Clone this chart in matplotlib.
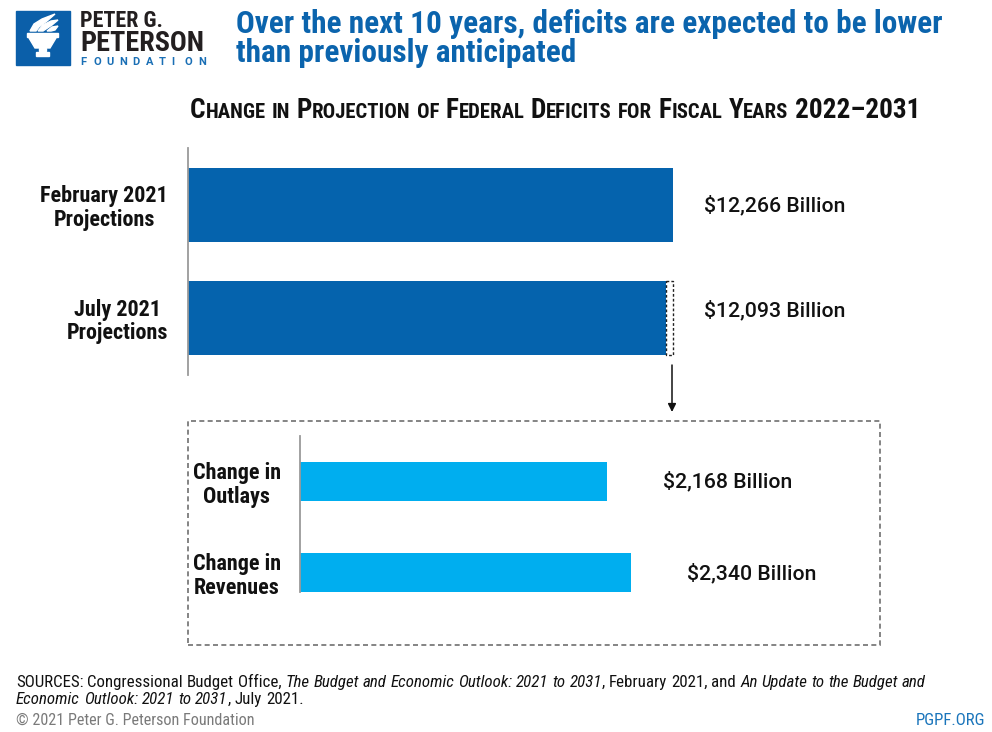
import matplotlib
matplotlib.use("Agg")
import matplotlib.pyplot as plt
from matplotlib import font_manager
from matplotlib.patches import Rectangle, Polygon

# data
top_labels = ["February 2021\nProjections", "July 2021\nProjections"]
top_values = [12266, 12093]
top_text = ["$12,266 Billion", "$12,093 Billion"]

bottom_labels = ["Change in\nOutlays", "Change in\nRevenues"]
bottom_values = [2168, 2340]
bottom_text = ["$2,168 Billion", "$2,340 Billion"]

title_lines = ["Over the next 10 years, deficits are expected to be lower",
               "than previously anticipated"]
subtitle = "Change in Projection of Federal Deficits for Fiscal Years 2022\u20132031"

DARK = "#0563ad"
LIGHT = "#00aeef"
BLUE_TXT = "#0b64ad"

# look for a narrow / condensed face, else fall back to Roboto
ttf = font_manager.fontManager.ttflist
names = {f.name for f in ttf}
COND = dict(family="Roboto")
for nm in ["Roboto Condensed", "Liberation Sans Narrow", "Open Sans Condensed"]:
    if nm in names:
        COND = dict(family=nm)
        break
else:
    for nm in ["Roboto", "Noto Sans", "Open Sans", "DejaVu Sans"]:
        if any(f.name == nm and "condensed" in str(f.stretch) for f in ttf):
            COND = dict(family=nm, fontstretch="condensed")
            break
PLAIN = dict(family="Roboto")

W, H = 992, 732
fig = plt.figure(figsize=(W / 100, H / 100), dpi=100)
renderer = fig.canvas.get_renderer()


def fx(px):
    return px / W


def fy(py):
    return 1 - py / H


def px_axes(l, t, r, b):
    return fig.add_axes([fx(l), fy(b), (r - l) / W, (b - t) / H])


def width_of(s, props):
    t = fig.text(0, 0, s, **props)
    w = t.get_window_extent(renderer).width
    t.remove()
    return w


def fit(s, target, props, ref=20):
    # font size that makes s about target pixels wide
    return ref * target / width_of(s, dict(props, fontsize=ref))


def space_w(props):
    return width_of("x x", props) - width_of("xx", props)


def run_text(x, y, parts, made=None):
    # pieces one after another on one baseline (pixel coords from top-left)
    for s, props in parts:
        sw = space_w(props)
        for i, tok in enumerate(s.split(" ")):
            if i > 0:
                x += sw
            if tok:
                t = fig.text(fx(x), fy(y), tok, va="baseline", ha="left", **props)
                if made is not None:
                    made.append(t)
                x = t.get_window_extent(renderer).x1
    return x


def small_caps(x, y, text, size, ratio, base, made=None):
    big = dict(base, fontsize=size)
    small = dict(base, fontsize=size * ratio)
    sp = space_w(big)
    for wi, word in enumerate(text.split(" ")):
        if wi > 0:
            x += sp
        groups = []
        for ch in word:
            props = small if ch.islower() else big
            if groups and groups[-1][1] is props:
                groups[-1][0] += ch.upper()
            else:
                groups.append([ch.upper(), props])
        for s, props in groups:
            x = run_text(x, y, [(s, props)], made)
    return x


# ---- logo ----
fig.patches.append(Rectangle((fx(16), fy(65)), 54 / W, 54 / H, color="#0b5fa9",
                             transform=fig.transFigure, figure=fig))
torch = [
    [(27, 33), (58, 33), (58, 37), (27, 37)],
    [(29, 38), (56, 38), (50, 48), (35, 48)],
    [(39, 48), (46, 48), (46, 51), (39, 51)],
    [(36, 52), (49, 52), (49, 56), (36, 56)],
    [(30, 31), (34, 24), (42, 19), (55, 14), (47, 21), (39, 27), (36, 31)],
    [(38, 31), (43, 25), (51, 21), (58, 20), (52, 25), (46, 29), (43, 31)],
    [(47, 31), (52, 27), (58, 26), (55, 30), (51, 31)],
]
for pts in torch:
    fig.patches.append(Polygon([(fx(a), fy(b)) for a, b in pts], closed=True,
                               color="white", transform=fig.transFigure, figure=fig))
logo_b = dict(COND, fontweight="bold", color="#231f20")
fig.text(fx(80), fy(27), "PETER G.", fontsize=fit("PETER G.", 83, logo_b), va="baseline", **logo_b)
fig.text(fx(80), fy(51), "PETERSON", fontsize=fit("PETERSON", 128, logo_b) * 0.97,
         va="baseline", **logo_b)
for i, ch in enumerate("FOUNDATION"):
    fig.text(fx(80 + i * 13.1), fy(65), ch, fontsize=8, fontweight="bold",
             color="#1a6fb5", va="baseline", **PLAIN)

# ---- title ----
title_p = dict(COND, fontweight="bold", color=BLUE_TXT)
tsize = fit(title_lines[0], 702, title_p)
fig.text(fx(236), fy(33), title_lines[0], fontsize=tsize, va="baseline", **title_p)
fig.text(fx(236), fy(62), title_lines[1], fontsize=tsize, va="baseline", **title_p)

# ---- small caps subtitle, sized to span 190..917 px ----
sub_p = dict(COND, fontweight="bold", color="#111111")
tmp = []
end = small_caps(190, 117, subtitle, 14, 0.76, sub_p, tmp)
for t in tmp:
    t.remove()
small_caps(190, 118, subtitle, 14 * 727 / (end - 190), 0.76, sub_p)

# ---- top chart ----
ax1 = px_axes(188, 148, 900, 375)
px_per = 485 / 12266
ax1.barh(range(len(top_values)), top_values, height=0.655, color=DARK)
ax1.set_xlim(0, 712 / px_per)
ax1.set_ylim(1.504, -0.504)
ax1.add_patch(Rectangle((top_values[1], 1 - 0.327), top_values[0] - top_values[1], 0.654,
                        fill=False, ec="#222222", lw=1, ls=(0, (2, 1.5))))
val_p = dict(PLAIN, fontweight="medium", color="#111111")
vsize = fit(top_text[0], 141, val_p)
lab_x = max(top_values) + 31 / px_per
for i, (s, dy) in enumerate(zip(top_text, [0, 6])):
    ax1.annotate(s, xy=(lab_x, i), xytext=(0, dy), textcoords="offset points",
                 va="center", ha="left", fontsize=vsize, **val_p)

# ---- bottom chart ----
ax2 = px_axes(300, 436, 870, 592)
px_per2 = 307 / 2168
ax2.barh(range(len(bottom_values)), bottom_values, height=0.43, color=LIGHT)
ax2.set_xlim(0, 570 / px_per2)
ax2.set_ylim(1.208, -0.497)
for i, s in enumerate(bottom_text):
    ax2.annotate(s, xy=(bottom_values[i], i), xytext=(56 * 0.72, 0),
                 textcoords="offset points", va="center", ha="left",
                 fontsize=vsize, **val_p)

cat_p = dict(COND, fontweight="bold", color="#111111")
csize = fit("February 2021", 128, cat_p)
for ax, labels, pad in [(ax1, top_labels, 14.4), (ax2, bottom_labels, 13.7)]:
    ax.set_yticks(range(len(labels)))
    ax.set_yticklabels(labels, fontsize=csize, multialignment="center",
                       linespacing=1.1, **cat_p)
    ax.tick_params(axis="y", length=0, pad=pad)
    ax.set_xticks([])
    for side in ["top", "right", "bottom"]:
        ax.spines[side].set_visible(False)
    ax.spines["left"].set_color("#9a9a9a")
    ax.spines["left"].set_linewidth(1.3)
    ax.patch.set_alpha(0)

# arrow and dashed box
fig.patches.append(Rectangle((fx(188), fy(645)), (880 - 188) / W, (645 - 421) / H,
                             fill=False, ec="#6f6f6f", lw=1.2, ls=(0, (3, 2)),
                             transform=fig.transFigure, figure=fig))
ax1.annotate("", xy=(fx(672), fy(412)), xytext=(fx(672), fy(365)),
             xycoords="figure fraction", textcoords="figure fraction",
             arrowprops=dict(arrowstyle="-|>", color="#111111", lw=1.1,
                             mutation_scale=12, shrinkA=0, shrinkB=0))

# ---- footer ----
foot_p = dict(COND, color="#111111")
line1 = [("SOURCES: Congressional Budget Office,", 0),
         (" The Budget and Economic Outlook: 2021 to 2031", 1),
         (", February 2021, and", 0),
         (" An Update to the Budget and", 1)]
line2 = [("Economic Outlook: 2021 to 2031", 1), (", July 2021.", 0)]


def styled(parts, size):
    out = []
    for s, it in parts:
        p = dict(foot_p, fontsize=size)
        if it:
            p["style"] = "italic"
        out.append((s, p))
    return out


tmp = []
end = run_text(16, 688, styled(line1, 10), tmp)
for t in tmp:
    t.remove()
fsize = 10 * 909 / (end - 16)
run_text(16, 687, styled(line1, fsize))
run_text(16, 704, styled(line2, fsize))

copy_p = dict(COND, color="#7a7a7a")
cp = "\u00a9 2021 Peter G. Peterson Foundation"
fig.text(fx(16), fy(725), cp, fontsize=fit(cp, 239, copy_p), va="baseline", **copy_p)
url_p = dict(COND, color="#1a75bb")
fig.text(fx(985), fy(725), "PGPF.ORG", fontsize=fit("PGPF.ORG", 70, url_p),
         va="baseline", ha="right", **url_p)

fig.savefig("out.png", dpi=100)
